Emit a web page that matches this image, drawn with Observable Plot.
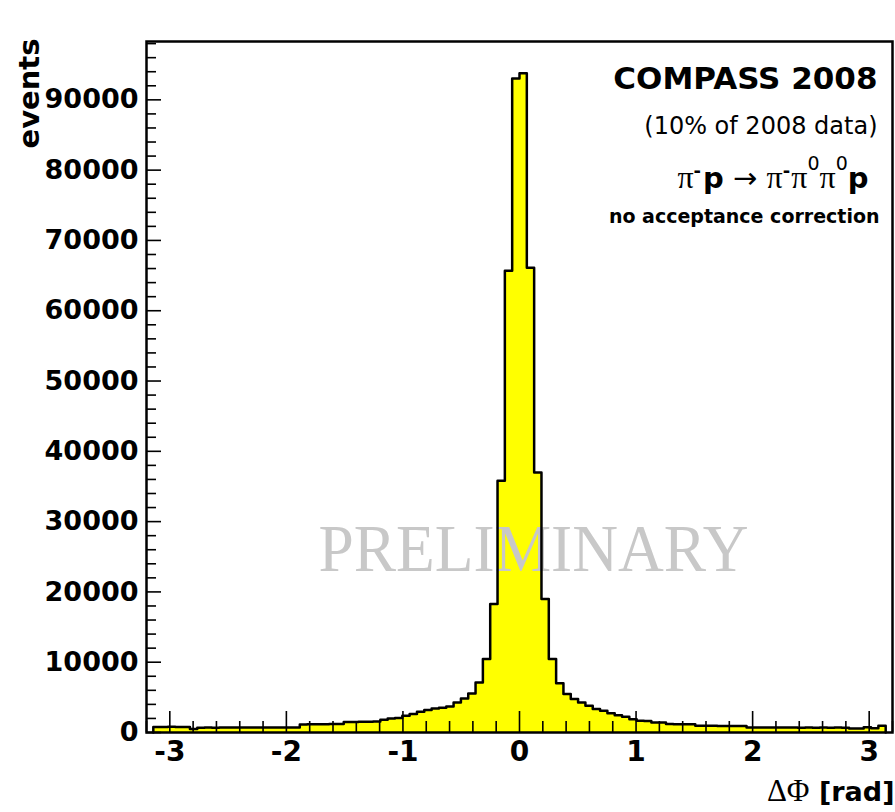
<!DOCTYPE html>
<html><head><meta charset="utf-8">
<script src="https://cdn.jsdelivr.net/npm/d3@7"></script>
<script src="https://cdn.jsdelivr.net/npm/@observablehq/plot@0.6"></script>
<style>
html,body{margin:0;padding:0;background:#fff;overflow:hidden;}
</style>
</head><body>
<div id="chart"></div>
<script>
// ---- data ----
const binRange = [-Math.PI, Math.PI];          // histogram range, 100 equal bins
const counts = [
  800, 790, 810, 800, 790, 500, 690, 700, 690, 700,
  700, 710, 700, 710, 700, 700, 710, 700, 700, 710,
  1150, 1170, 1180, 1190, 1200, 1210, 1480, 1500, 1520, 1540,
  1560, 1810, 2000, 2080, 2380, 2620, 2950, 3190, 3420, 3530,
  3700, 4270, 4840, 5550, 7100, 10440, 18270, 35820, 65700, 93030,
  93780, 66130, 37000, 18980, 10440, 7000, 5460, 4750, 4270, 3800,
  3330, 3100, 2750, 2450, 2230, 1900, 1680, 1650, 1430, 1410,
  1200, 1190, 1180, 1170, 960, 950, 950, 940, 940, 930,
  930, 720, 710, 710, 700, 710, 700, 700, 690, 700,
  690, 700, 690, 700, 690, 570, 580, 760, 600, 950
];
const xMajorTicks = [-3, -2, -1, 0, 1, 2, 3];
const yMajorTicks = [0, 10000, 20000, 30000, 40000, 50000, 60000, 70000, 80000, 90000];
const xDomain = [-3.2, 3.2];
const yDomain = [0, 98300];
const titleLines = ["COMPASS 2008", "(10% of 2008 data)", "π-p → π-π0π0p", "no acceptance correction"];
const xLabel = "ΔΦ [rad]";
const yLabel = "events";
const watermark = "PRELIMINARY";

// ---- layout ----
const W = 895, H = 812, mL = 146, mR = 3, mT = 41, mB = 80;
const frameW = W - mL - mR, frameH = H - mT - mB;

const nBins = counts.length;
const bw = (binRange[1] - binRange[0]) / nBins;
const bins = counts.map((c, i) => ({x: binRange[0] + i * bw, y: c}));
const areaPts = [...bins, {x: binRange[1], y: counts[nBins - 1]}];
const outline = [{x: binRange[0], y: 0}, ...bins, {x: binRange[1], y: 0}];

const xMinorTicks = d3.range(-16, 17).map(i => i / 5).filter(v => !xMajorTicks.some(t => Math.abs(t - v) < 1e-9));
const yMinorTicks = d3.range(0, yDomain[1], 2000).filter(v => v % 10000 !== 0);

const sans = "DejaVu Sans", serif = "Liberation Serif";

const plot = Plot.plot({
  width: W, height: H,
  marginLeft: mL, marginRight: mR, marginTop: mT, marginBottom: mB,
  style: {fontFamily: sans, fontWeight: "bold", background: "white", color: "black"},
  x: {domain: xDomain, label: null},
  y: {domain: yDomain, label: null},
  marks: [
    Plot.areaY(areaPts, {x: "x", y1: 0, y2: "y", curve: "step-after", fill: "#ffff00"}),
    Plot.text([watermark], {text: d => d, frameAnchor: "middle", lineAnchor: "bottom", dx: 14, dy: 184,
      fontFamily: serif, fontWeight: "normal", fontSize: 68, fill: "#c8c8c8"}),
    Plot.line(outline, {x: "x", y: "y", curve: "step-after", stroke: "black", strokeWidth: 2.5}),
    // ticks (inward, ROOT style)
    Plot.tickX(xMajorTicks, {x: d => d, insetTop: frameH - 21, stroke: "black", strokeWidth: 1.6}),
    Plot.tickX(xMinorTicks, {x: d => d, insetTop: frameH - 11, stroke: "black", strokeWidth: 1.6}),
    Plot.tickY(yMajorTicks, {y: d => d, insetRight: frameW - 15, stroke: "black", strokeWidth: 1.6}),
    Plot.tickY(yMinorTicks, {y: d => d, insetRight: frameW - 10, stroke: "black", strokeWidth: 1.6}),
    Plot.axisX({ticks: xMajorTicks, tickSize: 0, tickPadding: 9, fontSize: 28, fontWeight: "bold", tickFormat: d => String(d), label: null}),
    Plot.axisY({ticks: yMajorTicks, tickSize: 0, tickPadding: 8, fontSize: 27, fontWeight: "bold", tickFormat: d => String(d), label: null}),
    Plot.text([yLabel], {text: d => d, frameAnchor: "top-left", rotate: -90, textAnchor: "end", lineAnchor: "bottom",
      dx: -108, dy: -3, fontSize: 29, fontWeight: "bold"}),
    Plot.text([xLabel], {text: d => d, frameAnchor: "bottom-right", textAnchor: "end", lineAnchor: "bottom",
      dx: 2, dy: 68, fontSize: 28, fontWeight: "bold"}),
    Plot.text([titleLines[0]], {text: d => d, frameAnchor: "top-right", textAnchor: "end", lineAnchor: "bottom",
      dx: -15, dy: 47, fontSize: 31, fontWeight: "bold"}),
    Plot.text([titleLines[1]], {text: d => d, frameAnchor: "top-right", textAnchor: "end", lineAnchor: "bottom",
      dx: -15, dy: 92, fontSize: 24, fontWeight: "normal"}),
    Plot.text([titleLines[2]], {text: d => d, frameAnchor: "top-right", textAnchor: "end", lineAnchor: "bottom",
      dx: -24, dy: 146, fontSize: 28, fontWeight: "bold"}),
    Plot.text([titleLines[3]], {text: d => d, frameAnchor: "top-right", textAnchor: "end", lineAnchor: "bottom",
      dx: -13, dy: 181, fontSize: 19, fontWeight: "bold"}),
    Plot.frame({stroke: "black", strokeWidth: 2.5})
  ]
});
document.getElementById("chart").appendChild(plot);

// ---- rich text (mixed fonts / superscripts) ----
function findText(str) {
  return d3.select(plot).selectAll("text").filter(function () { return this.textContent === str; });
}
function buildTspans(sel, parts) {
  sel.text(null);
  let cur = 0;
  for (const p of parts) {
    const off = p.shift || 0;
    const ts = sel.append("tspan").text(p.t)
      .attr("dy", off - cur)
      .attr("font-family", p.f)
      .attr("font-size", p.s)
      .attr("font-weight", p.w || "normal");
    if (p.dx) ts.attr("dx", p.dx);
    cur = off;
  }
}
const piP = {f: serif, s: 32};
const supMinus = {t: "-", f: sans, s: 18, w: "bold", shift: -11};
const supZero = {t: "0", f: sans, s: 19, w: "normal", shift: -18};
const pB = {t: "p", f: sans, s: 29, w: "bold"};
buildTspans(findText(titleLines[2]), [
  {t: "π", ...piP}, supMinus, {...pB, dx: 2}, {t: " → ", f: sans, s: 29},
  {t: "π", ...piP}, supMinus, {t: "π", ...piP, dx: 1}, supZero, {t: "π", ...piP}, supZero, pB
]);
buildTspans(findText(xLabel), [
  {t: "ΔΦ", f: serif, s: 31}, {t: " [rad]", f: sans, s: 27, w: "bold"}
]);
findText(watermark).attr("textLength", 430).attr("lengthAdjust", "spacingAndGlyphs");
</script>
</body></html>
